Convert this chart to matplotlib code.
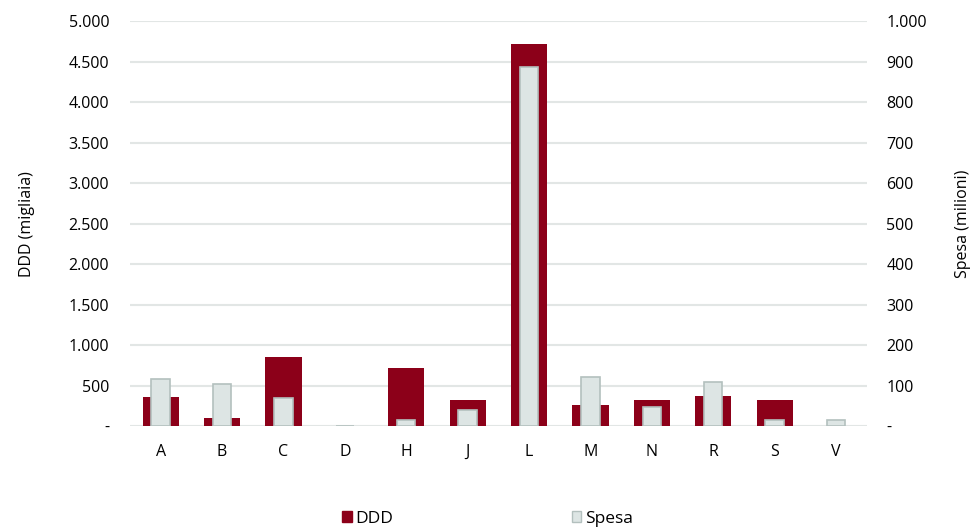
import matplotlib
matplotlib.use("Agg")
import matplotlib.pyplot as plt
from matplotlib.patches import Patch
from matplotlib.ticker import FuncFormatter
import numpy as np

categories = ["A", "B", "C", "D", "H", "J", "L", "M", "N", "R", "S", "V"]
ddd = [360, 95, 855, 2, 712, 325, 4720, 260, 318, 370, 318, 0]
spesa = [117, 103, 70, 1, 15, 41, 887, 121, 47, 109, 16, 14]

red = "#8C0019"
gray_fill = "#DDE5E4"
gray_edge = "#B3C0BE"
grid_col = "#E2E6E5"

plt.rcParams["font.family"] = ["Open Sans", "DejaVu Sans"]
plt.rcParams["font.size"] = 11.5

fig = plt.figure(figsize=(9.75, 5.32), dpi=100)
ax = fig.add_axes([0.1333, 0.199, 0.7557, 0.7615])
x = np.arange(len(categories))

ax.bar(x, ddd, width=0.59, color=red, zorder=2)
ax.set_ylim(0, 5000)
ax.set_yticks(np.arange(0, 5001, 500))
ax.set_xlim(-0.5, len(categories) - 0.5)
ax.set_xticks(x)
ax.set_xticklabels(categories)
ax.grid(axis="y", color=grid_col, linewidth=1.5, zorder=0)
ax.set_axisbelow(True)
ax.set_ylabel("DDD (migliaia)", labelpad=24)

def it_fmt(v, pos):
    if v == 0:
        return "-"
    return f"{int(v):,}".replace(",", ".")

ax.yaxis.set_major_formatter(FuncFormatter(it_fmt))

ax2 = ax.twinx()
ax2.bar(x, spesa, width=0.3, color=gray_fill, edgecolor=gray_edge, linewidth=1.2, zorder=3)
ax2.set_ylim(0, 1000)
ax2.set_yticks(np.arange(0, 1001, 100))
ax2.yaxis.set_major_formatter(FuncFormatter(it_fmt))
ax2.set_ylabel("Spesa (milioni)", labelpad=20)

for a in (ax, ax2):
    for s in a.spines.values():
        s.set_visible(False)
    a.tick_params(length=0, colors="#000000", labelsize=11.5)
ax.tick_params(axis="y", pad=15)
ax.tick_params(axis="x", pad=13)
ax2.tick_params(axis="y", pad=14)

handles = [Patch(facecolor=red, edgecolor=red),
           Patch(facecolor=gray_fill, edgecolor=gray_edge)]
fig.legend(handles, ["DDD", "Spesa"], loc="center", bbox_to_anchor=(0.5, 0.025),
           ncol=2, frameon=False, handlelength=0.55, handleheight=0.55,
           handletextpad=0.2, columnspacing=10.3, fontsize=12.5)

fig.savefig("out.png", dpi=100)
